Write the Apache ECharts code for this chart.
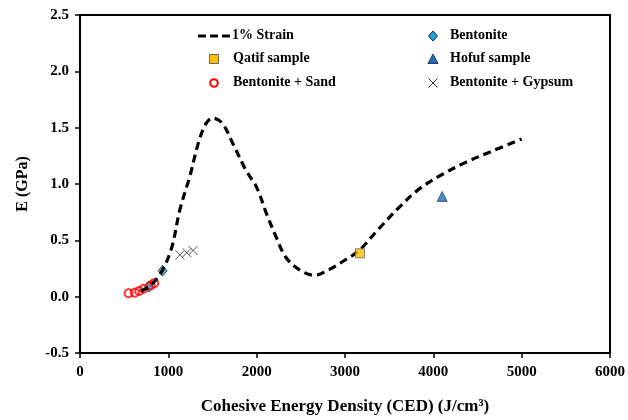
<!DOCTYPE html>
<html><head><meta charset="utf-8">
<script src="https://cdn.jsdelivr.net/npm/echarts@6/dist/echarts.min.js"></script>
<style>html,body{margin:0;padding:0;background:#fff}#c{width:628px;height:420px}</style>
</head><body><div id="c"></div>
<script>
// Data
const strainCurve = [[690,0.05],[800,0.10],[930,0.23],[1040,0.44],[1130,0.77],[1240,1.06],[1350,1.39],[1430,1.54],[1500,1.585],[1610,1.54],[1730,1.36],[1880,1.12],[2000,0.97],[2110,0.74],[2220,0.53],[2330,0.35],[2480,0.24],[2650,0.19],[2820,0.24],[3010,0.33],[3160,0.41],[3380,0.60],[3610,0.79],[3830,0.95],[4090,1.08],[4360,1.19],[4660,1.29],[5000,1.40]];
const bentonite = [[780,0.09],[935,0.23]];
const qatif = [[3170,0.385]];
const hofuf = [[4100,0.89]];
const bentoniteSand = [[550,0.03],[620,0.035],[670,0.05],[720,0.07],[800,0.10],[840,0.12]];
const bentoniteGypsum = [[1130,0.37],[1210,0.39],[1280,0.41]];
const xTicks = {min:0, max:6000, interval:1000};
const yTicks = {min:-0.5, max:2.5, interval:0.5};
const legendNames = ['1% Strain','Bentonite','Qatif sample','Hofuf sample','Bentonite + Sand','Bentonite + Gypsum'];

const FONT = 'Liberation Serif';
const crossPath = 'path://M0,0L10,10M10,0L0,10';
const C = {diamond:'#1aa3dc', square:'#ffc000', tri:'#1f6fc0', circle:'#ff0000', cross:'#333'};

function txt(t, x, y){
  return {type:'text', left:x, top:y-8, z:10, style:{text:t, fill:'#000', font:'bold 14px "'+FONT+'"'}};
}
const rowY = [36, 59, 83];
const graphics = [
  {type:'line', z:10, shape:{x1:198, y1:rowY[0], x2:230, y2:rowY[0]}, style:{stroke:'#000', lineWidth:3.2, lineDash:[8,4]}},
  txt(legendNames[0], 232, rowY[0]),
  {type:'polygon', z:10, shape:{points:[[433,rowY[0]-5],[437.5,rowY[0]],[433,rowY[0]+5],[428.5,rowY[0]]]}, style:{fill:C.diamond, stroke:'#000', lineWidth:0.8}},
  txt(legendNames[1], 450, rowY[0]),
  {type:'rect', z:10, shape:{x:209.5, y:rowY[1]-4.5, width:9, height:9}, style:{fill:C.square, stroke:'#666', lineWidth:1}},
  txt(legendNames[2], 233, rowY[1]),
  {type:'polygon', z:10, shape:{points:[[433,rowY[1]-5],[438,rowY[1]+4.5],[428,rowY[1]+4.5]]}, style:{fill:C.tri, stroke:'#123', lineWidth:0.8}},
  txt(legendNames[3], 450, rowY[1]),
  {type:'circle', z:10, shape:{cx:214, cy:rowY[2], r:3.8}, style:{fill:'#fff', stroke:C.circle, lineWidth:2}},
  txt(legendNames[4], 233, rowY[2]),
  {type:'polyline', z:10, shape:{points:[[428.5,rowY[2]-4.5],[437.5,rowY[2]+4.5]]}, style:{stroke:C.cross, lineWidth:1}},
  {type:'polyline', z:10, shape:{points:[[437.5,rowY[2]-4.5],[428.5,rowY[2]+4.5]]}, style:{stroke:C.cross, lineWidth:1}},
  txt(legendNames[5], 450, rowY[2])
];

const chart = echarts.init(document.getElementById('c'), null, {renderer:'canvas'});
chart.setOption({
  animation:false,
  backgroundColor:'#fff',
  grid:{left:80, right:16, top:15, bottom:67, show:true, borderColor:'#000', borderWidth:2},
  graphic:graphics,
  xAxis:{type:'value', min:xTicks.min, max:xTicks.max, interval:xTicks.interval,
    name:'Cohesive Energy Density (CED) (J/cm\u00B3)', nameLocation:'middle', nameGap:45,
    nameTextStyle:{fontFamily:FONT, fontWeight:'bold', fontSize:17, color:'#000'},
    axisLine:{onZero:false, lineStyle:{color:'#000', width:2}},
    axisTick:{show:true, length:5, lineStyle:{color:'#000', width:1.5}},
    axisLabel:{fontFamily:FONT, fontWeight:'bold', fontSize:15, color:'#000', margin:12,
      formatter:v=>String(v)},
    splitLine:{show:false}},
  yAxis:{type:'value', min:yTicks.min, max:yTicks.max, interval:yTicks.interval,
    name:'E (GPa)', nameLocation:'middle', nameGap:49, nameRotate:90,
    nameTextStyle:{fontFamily:FONT, fontWeight:'bold', fontSize:16, color:'#000'},
    axisLine:{lineStyle:{color:'#000', width:2}},
    axisTick:{show:true, length:5, lineStyle:{color:'#000', width:1.5}},
    axisLabel:{fontFamily:FONT, fontWeight:'bold', fontSize:15, color:'#000', margin:11,
      formatter:v=>v.toFixed(1)},
    splitLine:{show:false}},
  series:[
    {name:legendNames[4], type:'scatter', data:bentoniteSand, symbol:'circle', symbolSize:8, z:3,
      itemStyle:{color:'rgba(255,255,255,0)', borderColor:C.circle, borderWidth:2}},
    {name:legendNames[1], type:'scatter', data:bentonite, symbol:'diamond', symbolSize:[9,11], z:2,
      itemStyle:{color:C.diamond, borderColor:'#000', borderWidth:0.8}},
    {name:legendNames[0], type:'line', data:strainCurve, smooth:0.35, symbol:'none', z:4,
      lineStyle:{color:'#000', width:3.2, type:[8,5]}},
    {name:legendNames[2], type:'scatter', data:qatif, symbol:'rect', symbolSize:9, z:5,
      itemStyle:{color:C.square, borderColor:'#666', borderWidth:1}},
    {name:legendNames[3], type:'scatter', data:hofuf, symbol:'triangle', symbolSize:10, z:5,
      itemStyle:{color:C.tri, borderColor:'#123', borderWidth:0.8}},
    {name:legendNames[5], type:'scatter', data:bentoniteGypsum, symbol:crossPath, symbolSize:9, z:5,
      itemStyle:{color:'rgba(0,0,0,0)', borderColor:C.cross, borderWidth:1}}
  ]
});
</script></body></html>
